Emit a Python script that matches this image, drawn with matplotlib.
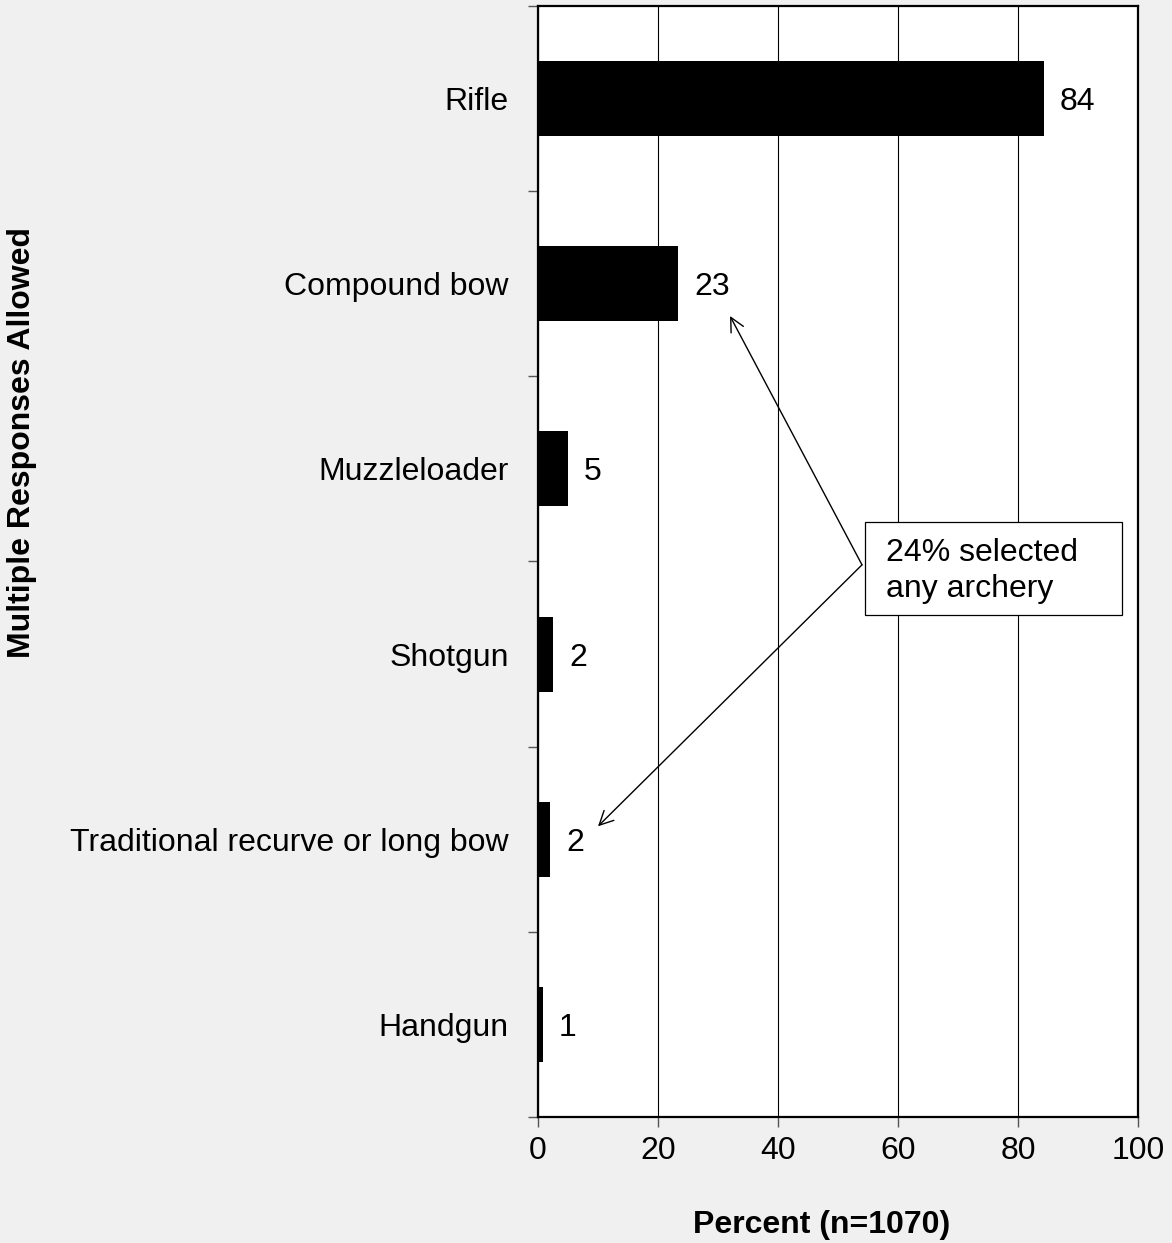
import numpy as np
import matplotlib
matplotlib.use('Agg')
import matplotlib.pyplot as plt
from matplotlib.patches import Rectangle

plt.rcParams['font.family'] = ['Liberation Sans', 'DejaVu Sans']

categories = ['Rifle', 'Compound bow', 'Muzzleloader', 'Shotgun',
              'Traditional recurve or long bow', 'Handgun']
values = [84.3, 23.3, 5.0, 2.5, 2.0, 0.8]
value_labels = ['84', '23', '5', '2', '2', '1']
x_ticks = [0, 20, 40, 60, 80, 100]

FS = 23
bg = '#f0f0f0'
fig = plt.figure(figsize=(11.72, 12.43), dpi=100, facecolor=bg)
ax = fig.add_axes([538 / 1172, 1 - 1117 / 1243, 600 / 1172, 1111 / 1243])
ax.set_facecolor('white')

ypos = np.arange(len(categories))
ax.barh(ypos, values, height=0.405, color='black', zorder=3)
for y, v, lab in zip(ypos, values, value_labels):
    ax.text(v + 2.7, y, lab, ha='left', va='center_baseline', fontsize=FS, zorder=4)

ax.set_xlim(0, 100)
ax.set_ylim(5.5, -0.5)
ax.set_xticks(x_ticks)
ax.set_xticklabels([str(t) for t in x_ticks], fontsize=FS)
ax.tick_params(axis='x', length=7, width=1, pad=6.5, color='#555555')
ax.set_yticks(ypos)
ax.set_yticklabels(categories, fontsize=FS, va='center_baseline')
ax.tick_params(axis='y', which='major', length=0, pad=21)
ax.set_yticks(np.arange(-0.5, 6, 1), minor=True)
ax.tick_params(axis='y', which='minor', length=7, width=1, color='#555555')
ax.grid(axis='x', color='black', linewidth=0.8, zorder=1)
for s in ax.spines.values():
    s.set_linewidth(1.6)
    s.set_color('black')

# annotation box
ax.add_patch(Rectangle((54.5, 2.286), 42.8, 0.502, facecolor='white',
                       edgecolor='black', linewidth=0.9, zorder=5))
ax.text(58.0, 2.497, '24% selected', ha='left', va='baseline',
        fontsize=FS, zorder=6)
ax.text(58.0, 2.691, 'any archery', ha='left', va='baseline',
        fontsize=FS, zorder=6)
start = (54.0, 2.518)
for tip in [(32.0, 1.174), (10.0, 3.93)]:
    ax.annotate('', xy=tip, xytext=start,
                arrowprops=dict(arrowstyle='->', color='black', lw=1.0,
                                mutation_scale=25, shrinkA=0, shrinkB=0),
                zorder=5)

fig.text(822 / 1172, 1 - 1233 / 1243, 'Percent (n=1070)', ha='center',
         va='baseline', fontsize=FS, fontweight='bold')
fig.text(22 / 1172, 1 - 443 / 1243, 'Multiple Responses Allowed', ha='center',
         va='center', rotation=90, fontsize=FS, fontweight='bold')

fig.savefig('out.png', dpi=100, facecolor=bg)
